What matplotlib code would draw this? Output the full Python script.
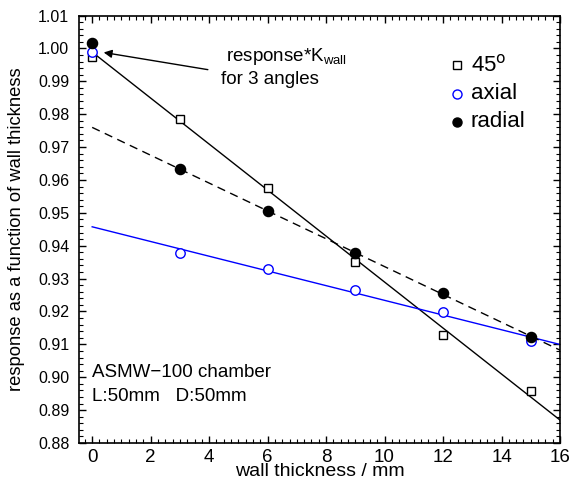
import numpy as np
import matplotlib
matplotlib.use("Agg")
import matplotlib.pyplot as plt
from matplotlib.ticker import MultipleLocator, FormatStrFormatter

plt.rcParams['font.family'] = ['Liberation Sans', 'DejaVu Sans']

thickness = [0, 3, 6, 9, 12, 15]
resp_45 = [0.9975, 0.9785, 0.9575, 0.9349, 0.9129, 0.8959]
resp_axial = [0.9988, 0.9379, 0.9329, 0.9266, 0.9198, 0.9109]
resp_radial = [1.0016, 0.9633, 0.9505, 0.9377, 0.9257, 0.9122]
fit_range = [0, 16]
legend_labels = ['45$^\\mathrm{o}$', 'axial', 'radial']

fig = plt.figure(figsize=(5.71, 4.82), dpi=100)
ax = fig.add_axes([0.1384, 0.0809, 0.8423, 0.8869])

x = np.array(thickness)
xf = np.array(fit_range)

def fit_line(y, **kw):
    y = np.array(y)
    p = np.polyfit(x[1:], y[1:], 1)
    ax.plot(xf, np.polyval(p, xf), **kw)

fit_line(resp_45, color='black', lw=1.0)
fit_line(resp_axial, color='#0000ff', lw=1.0)
fit_line(resp_radial, color='black', lw=1.0, ls=(0, (6, 4)))

sq = dict(marker='s', ms=5.8, mfc='white', mec='black', mew=1.0, ls='none')
oc = dict(marker='o', ms=6.8, mfc='white', mec='#0000ff', mew=1.0, ls='none')
fc = dict(marker='o', ms=7.3, mfc='black', mec='black', ls='none')
ax.plot(x, resp_45, **sq)
ax.plot(x, resp_axial, **oc)
ax.plot(x, resp_radial, **fc)

ax.set_xlim(-0.45, 16)
ax.set_ylim(0.88, 1.01)
ax.xaxis.set_major_locator(MultipleLocator(2))
ax.xaxis.set_minor_locator(MultipleLocator(0.25))
ax.yaxis.set_major_locator(MultipleLocator(0.01))
ax.yaxis.set_minor_locator(MultipleLocator(0.002))
ax.yaxis.set_major_formatter(FormatStrFormatter('%.2f'))
ax.tick_params(which='both', direction='in', top=True, right=True)
ax.tick_params(which='major', length=5, width=1)
ax.tick_params(which='minor', length=3, width=0.8)
ax.tick_params(axis='x', labelsize=13.5, pad=4.5)
ax.tick_params(axis='y', labelsize=11.5, pad=7)
for s in ax.spines.values():
    s.set_linewidth(1.2)

ax.set_xlabel('wall thickness / mm', fontsize=14, va='bottom')
ax.xaxis.set_label_coords(0.5, -0.081 - 0.0809 / 0.8869 + 0.081 + 0.004 / 0.8869, transform=ax.transAxes)
ax.set_ylabel('response as a function of wall thickness', fontsize=13.2)
ax.yaxis.set_label_coords(-0.112, 0.5)

# legend
leg_x_m, leg_x_t = 12.47, 12.95
leg_rows = [0.99495, 0.98614, 0.97763]
ax.plot([leg_x_m], [leg_rows[0]], **dict(sq, ms=5.5))
ax.plot([leg_x_m], [leg_rows[1]], **dict(oc, ms=6.5))
ax.plot([leg_x_m], [leg_rows[2]], **dict(fc, ms=6.5))
for lab, yy in zip(legend_labels, leg_rows):
    ax.text(leg_x_t, yy, lab, fontsize=16, va='center', ha='left')

ax.annotate('', xy=(0.3, 0.9989), xytext=(4.05, 0.9934),
            arrowprops=dict(arrowstyle='-|>', color='black', lw=1.0, mutation_scale=12))
ax.text(4.56, 0.99769, 'response*K$_\\mathregular{wall}$', fontsize=13.5, va='center', ha='left')
ax.text(4.42, 0.99040, 'for 3 angles', fontsize=13.5, va='center', ha='left')

ax.text(0.0, 0.90134, 'ASMW\u2212100 chamber', fontsize=13.5, va='center', ha='left')
ax.text(0.0, 0.89404, 'L:50mm   D:50mm', fontsize=13.5, va='center', ha='left')

fig.savefig('out.png', dpi=100)
